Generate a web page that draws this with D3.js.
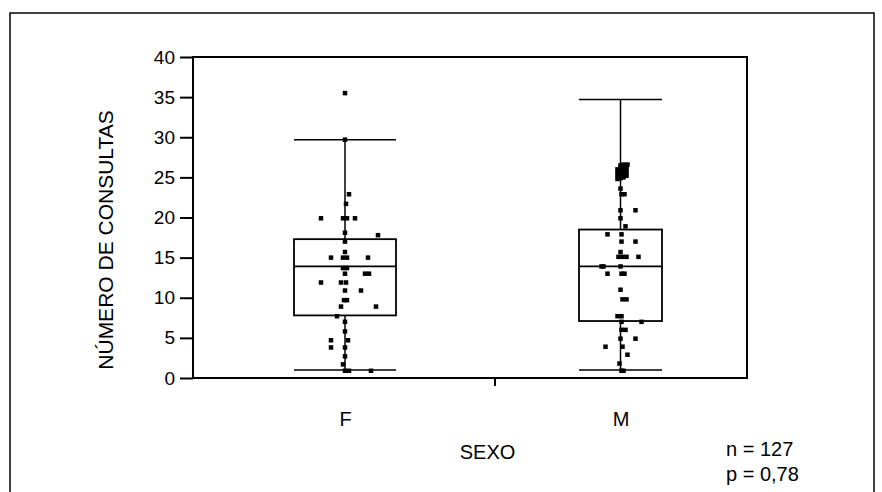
<!DOCTYPE html>
<html>
<head>
<meta charset="utf-8">
<script src="https://cdn.jsdelivr.net/npm/d3@7/dist/d3.min.js"></script>
<style>
  html, body { margin: 0; padding: 0; background: #fff; }
  svg { display: block; }
  text { font-family: "Liberation Sans", Arial, sans-serif; fill: #000; }
</style>
</head>
<body>
<svg id="chart" width="882" height="492"></svg>
<script>
// ---------- data ----------
const groups = ["F", "M"];
const whiskerLow  = [1.0, 1.0];
const q1          = [7.8, 7.1];
const median      = [13.9, 13.9];
const q3          = [17.3, 18.5];
const whiskerHigh = [29.7, 34.7];
const yTicks = [0, 5, 10, 15, 20, 25, 30, 35, 40];

const fValues = [35.5, 29.7, 22.9, 21.7, 19.9, 19.9, 19.9, 19.9, 18.1, 17.8, 17.0, 15.7,
  15.0, 15.0, 15.0, 15.0, 13.7, 13.7, 13.0, 13.0, 13.0, 11.9, 11.9, 11.9, 10.9, 10.9,
  9.7, 9.7, 8.9, 8.9, 7.7, 7.0, 5.8, 4.7, 4.7, 3.8, 3.8, 2.7, 1.7, 0.9, 0.9, 0.9];
const fJitter = [0, 0, 4, 1, -24, -2, 2, 10, 0, 33, 0, 0,
  -14, -2, 2, 23, -2, 2, 20, 24, 0, -24, -4, 1, 0, 16,
  -1, 2, -4, 31, -8, 0, 0, -14, 3, -14, 0, 0, -2, 0, 4, 26];

// the dense cluster around 25-26 in group M overprints into a solid block
const mValues = [24.8, 25.2, 25.6, 26.0, 24.9, 25.3, 25.7, 26.1, 26.5, 25.0, 25.4, 25.8, 26.2, 26.6,
  25.2, 25.6, 26.0, 26.4, 26.6,
  23.6, 22.9, 22.9, 20.9, 20.9, 19.9, 18.9, 17.9, 17.9, 17.0, 17.0, 15.7,
  15.1, 15.1, 15.1, 15.1, 13.9, 13.9, 13.9, 13.0, 13.0, 13.0, 11.0, 9.8, 9.8,
  7.7, 7.7, 7.0, 7.0, 6.0, 6.0, 4.9, 4.9, 3.9, 3.9, 2.9, 1.8, 0.9, 0.9];
const mJitter = [-3, -3, -3, -3, 0, 0, 0, 0, 0, 3, 3, 3, 3, 3,
  6, 6, 6, 6, 7,
  0, 1, 4, 0, 15, 0, 5, -13, 1, 1, 15, 0,
  -2, 2, 6, 18, -19, -17, 0, -13, 1, 4, 0, 2, 6,
  -3, 1, 1, 21, 1, 5, 0, 15, -15, 2, 7, -1, 1, 3];

const xTitle = "SEXO";
const yTitle = "NÚMERO DE CONSULTAS";
const notes = ["n = 127", "p = 0,78"];

// ---------- layout ----------
const plot = { left: 193, right: 747, top: 57, bottom: 378 };
const boxWidth = { F: 102, M: 83 };
const svg = d3.select("#chart");

// outer frame
svg.append("rect")
  .attr("x", 10).attr("y", 13).attr("width", 864).attr("height", 490)
  .attr("fill", "none").attr("stroke", "#000").attr("stroke-width", 1.5);

const y = d3.scaleLinear().domain([0, 40]).range([plot.bottom, plot.top]);
const x = d3.scalePoint().domain(groups)
  .range([plot.left + 152, plot.right - 126.5]);

// y axis
const yAxis = d3.axisLeft(y).tickValues(yTicks).tickSize(13).tickSizeOuter(0).tickPadding(5);
const gy = svg.append("g").attr("transform", `translate(${plot.left},0)`).call(yAxis);
gy.select(".domain").remove();
gy.selectAll(".tick line").attr("stroke", "#000").attr("stroke-width", 2);
gy.selectAll(".tick text").style("font-size", "19px")
  .style("font-family", '"Liberation Sans", Arial, sans-serif');

// plot frame
svg.append("rect")
  .attr("x", plot.left).attr("y", plot.top)
  .attr("width", plot.right - plot.left).attr("height", plot.bottom - plot.top)
  .attr("fill", "none").attr("stroke", "#000").attr("stroke-width", 2);

// x axis labels
const xAxis = d3.axisBottom(x).tickSize(0).tickPadding(34);
const gx = svg.append("g").attr("transform", `translate(0,${plot.bottom})`).call(xAxis);
gx.select(".domain").remove();
gx.selectAll(".tick text").style("font-size", "20px")
  .style("font-family", '"Liberation Sans", Arial, sans-serif');

// middle tick below axis
const midTick = (plot.left + plot.right) / 2 + 25;
svg.append("line")
  .attr("x1", midTick).attr("x2", midTick)
  .attr("y1", plot.bottom).attr("y2", plot.bottom + 8)
  .attr("stroke", "#000").attr("stroke-width", 2);

// boxes
groups.forEach((g, i) => {
  const cx = x(g), w = boxWidth[g];
  const G = svg.append("g").attr("stroke", "#000").attr("fill", "none");
  G.append("line").attr("x1", cx).attr("x2", cx)
    .attr("y1", y(whiskerHigh[i])).attr("y2", y(q3[i])).attr("stroke-width", 1.5);
  G.append("line").attr("x1", cx).attr("x2", cx)
    .attr("y1", y(q1[i])).attr("y2", y(whiskerLow[i])).attr("stroke-width", 1.5);
  [whiskerHigh[i], whiskerLow[i]].forEach(v => {
    G.append("line").attr("x1", cx - w / 2).attr("x2", cx + w / 2)
      .attr("y1", y(v)).attr("y2", y(v)).attr("stroke-width", 1.5);
  });
  G.append("rect").attr("x", cx - w / 2).attr("y", y(q3[i]))
    .attr("width", w).attr("height", y(q1[i]) - y(q3[i]))
    .attr("stroke-width", 1.8);
  G.append("line").attr("x1", cx - w / 2).attr("x2", cx + w / 2)
    .attr("y1", y(median[i])).attr("y2", y(median[i])).attr("stroke-width", 1.8);
});

// points
const pts = [
  { g: "F", vals: fValues, jit: fJitter },
  { g: "M", vals: mValues, jit: mJitter }
];
const s = 4.5;
pts.forEach(p => {
  svg.append("g").selectAll("rect").data(p.vals).join("rect")
    .attr("x", (d, j) => x(p.g) + p.jit[j] - s / 2)
    .attr("y", d => y(d) - s / 2)
    .attr("width", s).attr("height", s)
    .attr("fill", "#000");
});

// titles
svg.append("text").attr("x", 487.5).attr("y", 459)
  .attr("text-anchor", "middle").style("font-size", "20px").text(xTitle);

svg.append("text").attr("transform", "rotate(-90)")
  .attr("x", -240).attr("y", 113)
  .attr("text-anchor", "middle").style("font-size", "21px").text(yTitle);

svg.append("text").attr("x", 726).attr("y", 456).style("font-size", "20px").text(notes[0]);
svg.append("text").attr("x", 726).attr("y", 481).style("font-size", "20px").text(notes[1]);
</script>
</body>
</html>
